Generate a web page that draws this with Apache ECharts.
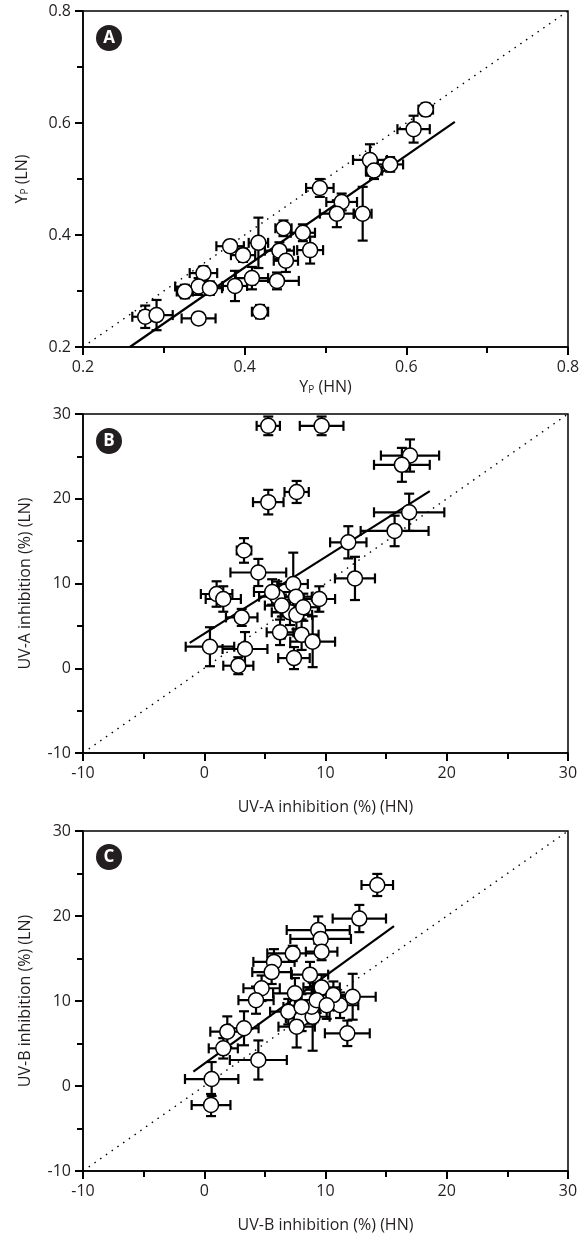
<!DOCTYPE html>
<html>
<head>
<meta charset="utf-8">
<script src="https://cdn.jsdelivr.net/npm/echarts@6/dist/echarts.min.js"></script>
<style>
  html, body { margin: 0; padding: 0; background: #fff; }
  #chart { width: 586px; height: 1235px; }
</style>
</head>
<body>
<div id="chart"></div>
<script>
// panel A: Yp, HN vs LN
const aX    = [0.624, 0.609, 0.555, 0.580, 0.493, 0.520, 0.514, 0.546, 0.448, 0.417, 0.481, 0.443, 0.382, 0.398, 0.451, 0.440, 0.409, 0.388, 0.349, 0.343, 0.357, 0.326, 0.419, 0.343, 0.277, 0.291, 0.560, 0.472];
const aY    = [0.624, 0.589, 0.534, 0.526, 0.484, 0.459, 0.438, 0.438, 0.412, 0.386, 0.373, 0.372, 0.380, 0.364, 0.354, 0.318, 0.323, 0.309, 0.332, 0.308, 0.305, 0.299, 0.263, 0.251, 0.254, 0.257, 0.515, 0.404];
const aXErr = [0.009, 0.020, 0.021, 0.016, 0.017, 0.019, 0.021, 0.011, 0.010, 0.012, 0.016, 0.018, 0.017, 0.015, 0.015, 0.027, 0.020, 0.015, 0.017, 0.029, 0.015, 0.010, 0.010, 0.021, 0.016, 0.020, 0.010, 0.015];
const aYErr = [0.011, 0.024, 0.028, 0.013, 0.016, 0.015, 0.024, 0.048, 0.014, 0.045, 0.024, 0.015, 0.010, 0.012, 0.020, 0.015, 0.020, 0.027, 0.012, 0.015, 0.012, 0.012, 0.012, 0.010, 0.020, 0.027, 0.015, 0.015];
const aFit  = [[0.258, 0.200], [0.660, 0.602]];
const aTicks = [0.2, 0.4, 0.6, 0.8];

// panel B: UV-A inhibition (%)
const bX    = [5.28, 9.68, 16.97, 16.3, 7.62, 5.28, 16.9, 15.7, 11.88, 12.43, 3.28, 4.46, 7.34, 6.02, 7.57, 9.49, 1.02, 1.57, 3.09, 7.07, 7.6, 8.17, 6.25, 8.03, 8.94, 0.47, 3.36, 2.81, 7.4, 6.4, 5.6];
const bY    = [28.6, 28.6, 25.1, 24.0, 20.8, 19.6, 18.4, 16.2, 14.86, 10.6, 13.9, 11.3, 9.94, 8.44, 8.44, 8.17, 8.76, 8.17, 6.0, 6.6, 6.3, 7.2, 4.24, 3.96, 3.13, 2.54, 2.27, 0.3, 1.2, 7.4, 9.0];
const bXErr = [0.96, 1.8, 2.4, 2.3, 1.0, 1.26, 2.9, 2.8, 1.5, 1.65, 0.6, 2.3, 1.2, 1.5, 1.3, 1.3, 1.3, 1.45, 1.3, 1.5, 1.3, 1.2, 1.1, 1.4, 1.85, 2.0, 1.85, 1.24, 1.3, 1.4, 1.5];
const bYErr = [1.1, 1.1, 1.9, 2.0, 1.3, 1.45, 2.2, 1.8, 1.9, 2.55, 1.45, 1.6, 3.7, 1.8, 1.5, 1.5, 1.5, 1.5, 1.0, 1.5, 1.7, 1.6, 1.5, 1.8, 3.0, 2.3, 2.0, 1.0, 1.3, 1.3, 1.5];
const bFit  = [[-1.2, 3.0], [18.6, 20.9]];

// panel C: UV-B inhibition (%)
const cX    = [14.27, 12.79, 9.4, 9.6, 9.68, 7.3, 5.75, 5.56, 4.73, 4.27, 9.68, 8.72, 12.24, 11.2, 10.65, 7.48, 6.93, 8.03, 8.94, 7.62, 8.86, 11.8, 1.9, 3.28, 1.57, 4.46, 0.61, 0.56, 9.27, 10.1, 8.03];
const cY    = [23.65, 19.7, 18.35, 17.3, 15.8, 15.6, 14.6, 13.4, 11.5, 10.1, 11.6, 13.1, 10.5, 9.5, 10.7, 10.9, 8.74, 7.96, 8.15, 6.98, 9.33, 6.2, 6.39, 6.79, 4.43, 3.06, 0.82, -2.24, 10.1, 9.5, 9.3];
const cXErr = [1.3, 2.2, 2.6, 2.5, 1.3, 2.1, 1.7, 1.6, 1.5, 1.45, 1.5, 1.5, 1.9, 1.5, 1.6, 1.8, 1.5, 1.3, 1.4, 1.5, 1.8, 1.85, 1.4, 1.2, 1.2, 2.35, 2.2, 1.6, 1.5, 1.6, 1.5];
const cYErr = [1.3, 1.6, 1.6, 1.5, 1.0, 0.9, 1.5, 1.4, 1.5, 1.6, 1.5, 1.5, 2.7, 1.5, 1.6, 1.8, 1.5, 1.5, 4.0, 2.45, 2.0, 1.5, 1.8, 2.0, 1.2, 2.3, 2.0, 1.3, 1.5, 1.6, 1.5];
const cFit  = [[-0.9, 1.68], [15.65, 18.8]];

const pctTicks = [-10, 0, 10, 20, 30];

const ink = '#231f20';
const font = 'Open Sans';

function zipErr(xs, ys, exs, eys) {
  return xs.map((x, i) => [x, ys[i], exs[i], eys[i]]);
}

function errRender(params, api) {
  const x = api.value(0), y = api.value(1), ex = api.value(2), ey = api.value(3);
  const l = api.coord([x - ex, y]), r = api.coord([x + ex, y]);
  const b = api.coord([x, y - ey]), t = api.coord([x, y + ey]);
  const c = 5;
  const st = { stroke: '#000', lineWidth: 2.2 };
  const seg = (x1, y1, x2, y2) => ({ type: 'line', shape: { x1, y1, x2, y2 }, style: st });
  return {
    type: 'group',
    children: [
      seg(l[0], l[1], r[0], r[1]),
      seg(l[0], l[1] - c, l[0], l[1] + c),
      seg(r[0], r[1] - c, r[0], r[1] + c),
      seg(b[0], b[1], t[0], t[1]),
      seg(b[0] - c, b[1], b[0] + c, b[1]),
      seg(t[0] - c, t[1], t[0] + c, t[1])
    ]
  };
}

const richName = {
  s: { fontFamily: font, fontSize: 10, color: ink, padding: [6, 0, 0, 0] }
};

function makeAxis(idx, min, max, interval, name, gap, fmt) {
  return {
    gridIndex: idx, type: 'value', min, max, interval,
    name, nameLocation: 'middle', nameGap: gap,
    nameTextStyle: { fontFamily: font, fontSize: 16, color: ink, rich: richName },
    axisLine: { show: true, onZero: false, lineStyle: { color: '#000', width: 1.5 } },
    axisTick: { show: true, inside: false, length: 8, lineStyle: { color: '#000', width: 2 } },
    minorTick: { show: true, splitNumber: 2, length: 6, lineStyle: { color: '#000', width: 2 } },
    axisLabel: { fontFamily: font, fontSize: 16, color: ink, margin: 12, formatter: fmt },
    splitLine: { show: false },
    minorSplitLine: { show: false }
  };
}

const fmtA = v => v.toFixed(1);
const fmtP = v => String(Math.round(v));

function identity(lo, hi) { return [[lo, lo], [hi, hi]]; }

function panelSeries(idx, xs, ys, exs, eys, fit, lo, hi) {
  return [
    {
      type: 'line', xAxisIndex: idx, yAxisIndex: idx, data: identity(lo, hi),
      symbol: 'none', silent: true, z: 1,
      lineStyle: { color: '#000', width: 1.4, type: [1.5, 5.5] }
    },
    {
      type: 'custom', xAxisIndex: idx, yAxisIndex: idx,
      data: zipErr(xs, ys, exs, eys), renderItem: errRender,
      encode: { x: 0, y: 1 }, z: 2, silent: true
    },
    {
      type: 'line', xAxisIndex: idx, yAxisIndex: idx, data: fit,
      symbol: 'none', silent: true, z: 3,
      lineStyle: { color: '#000', width: 2.2 }
    },
    {
      type: 'scatter', xAxisIndex: idx, yAxisIndex: idx,
      data: xs.map((x, i) => [x, ys[i]]),
      symbol: 'circle', symbolSize: 15, z: 4, silent: true,
      itemStyle: { color: '#fff', borderColor: '#000', borderWidth: 1.5, opacity: 1 }
    }
  ];
}

function badge(letter, cx, cy) {
  return [
    { type: 'circle', shape: { cx, cy, r: 13 }, style: { fill: ink }, z: 10 },
    { type: 'text', x: cx, y: cy, z: 11,
      style: { text: letter, fill: '#fff', font: 'bold 17px "Open Sans"', align: 'center', verticalAlign: 'middle' } }
  ];
}

const chart = echarts.init(document.getElementById('chart'));
chart.setOption({
  animation: false,
  backgroundColor: '#fff',
  grid: [
    { left: 83, right: 18, top: 11, height: 336, show: true, borderColor: '#000', borderWidth: 1.5 },
    { left: 83, right: 18, top: 414, height: 339, show: true, borderColor: '#000', borderWidth: 1.5 },
    { left: 83, right: 18, top: 831, height: 340, show: true, borderColor: '#000', borderWidth: 1.5 }
  ],
  xAxis: [
    makeAxis(0, aTicks[0], aTicks[aTicks.length - 1], 0.2, 'Y{s|P} (HN)', 32, fmtA),
    makeAxis(1, pctTicks[0], pctTicks[pctTicks.length - 1], 10, 'UV-A inhibition (%) (HN)', 46, fmtP),
    makeAxis(2, pctTicks[0], pctTicks[pctTicks.length - 1], 10, 'UV-B inhibition (%) (HN)', 46, fmtP)
  ],
  yAxis: [
    makeAxis(0, aTicks[0], aTicks[aTicks.length - 1], 0.2, 'Y{s|P} (LN)', 53, fmtA),
    makeAxis(1, pctTicks[0], pctTicks[pctTicks.length - 1], 10, 'UV-A inhibition (%) (LN)', 50, fmtP),
    makeAxis(2, pctTicks[0], pctTicks[pctTicks.length - 1], 10, 'UV-B inhibition (%) (LN)', 50, fmtP)
  ],
  series: [
    ...panelSeries(0, aX, aY, aXErr, aYErr, aFit, 0.2, 0.8),
    ...panelSeries(1, bX, bY, bXErr, bYErr, bFit, -10, 30),
    ...panelSeries(2, cX, cY, cXErr, cYErr, cFit, -10, 30)
  ],
  graphic: [
    ...badge('A', 109, 38),
    ...badge('B', 109, 441),
    ...badge('C', 109, 857)
  ]
});
window.addEventListener('resize', () => chart.resize());
</script>
</body>
</html>
